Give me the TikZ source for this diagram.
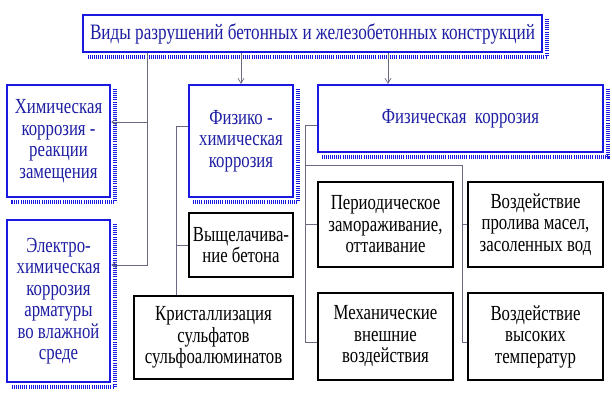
\documentclass[tikz,border=0pt]{standalone}
\usepackage{fontspec}
\setmainfont{Liberation Serif}
\newfontfamily\narrowserif{Liberation Serif}[FakeStretch=0.78]
\usetikzlibrary{arrows.meta}

\definecolor{boxblue}{RGB}{25,25,225}
\definecolor{txtblue}{RGB}{30,30,165}
\definecolor{linkgray}{RGB}{105,105,130}

\newcommand\boxfont{\narrowserif\fontsize{21.5}{21.5}\selectfont}
\newcommand\boxshadow[1]{%
  \draw[hatch] ([xshift=3.5pt,yshift=-5pt]#1.north east) |- ([xshift=5pt,yshift=-3.5pt]#1.south west);}

\tikzset{
  bluebox/.style={draw=boxblue, line width=2.2pt, fill=white, text=txtblue, align=center, inner sep=1pt},
  blackbox/.style={draw=black, line width=1.8pt, fill=white, align=center, inner sep=1pt},
  link/.style={draw=linkgray, line width=0.7pt},
  arr/.style={link, -{Straight Barb[length=5pt,width=6pt]}},
  hatch/.style={draw=boxblue, line width=4pt, dash pattern=on 1pt off 1.1pt},
}

\begin{document}
\begin{tikzpicture}[x=1pt, y=-1pt, font=\boxfont]
  \useasboundingbox (0,0) rectangle (612,400);

  % blue boxes
  \node[bluebox, minimum width=459pt, minimum height=37pt, font=\narrowserif\fontsize{22}{22}\selectfont] (top) at (312.5,33.5)
    {Виды разрушений бетонных и железобетонных конструкций};
  \node[bluebox, minimum width=103pt, minimum height=112pt] (chem) at (58.5,141)
    {Химическая\\коррозия -\\реакции\\замещения};
  \node[bluebox, minimum width=103pt, minimum height=162pt] (electro) at (58.5,301)
    {Электро-\\химическая\\коррозия\\арматуры\\во влажной\\среде};
  \node[bluebox, minimum width=104pt, minimum height=112pt] (physchem) at (241,141)
    {Физико -\\химическая\\коррозия};
  \node[bluebox, minimum width=285pt, minimum height=67pt] (phys) at (460.5,118.5)
    {Физическая\ \ коррозия};
  \boxshadow{top}
  \boxshadow{chem}
  \boxshadow{electro}
  \boxshadow{physchem}
  \boxshadow{phys}

  % black boxes
  \node[blackbox, minimum width=104pt, minimum height=64pt] (leach) at (241,245)
    {Выщелачива-\\ние бетона};
  \node[blackbox, minimum width=159pt, minimum height=83pt] (cryst) at (213.5,337.5)
    {Кристаллизация\\сульфатов\\сульфоалюминатов};
  \node[blackbox, minimum width=135pt, minimum height=85pt] (freeze) at (385.5,224.5)
    {Периодическое\\замораживание,\\оттаивание};
  \node[blackbox, minimum width=135pt, minimum height=85pt] (oils) at (535.5,224.5)
    {Воздействие\\пролива масел,\\засоленных вод};
  \node[blackbox, minimum width=135pt, minimum height=87pt] (mech) at (385.5,336.5)
    {Механические\\внешние\\воздействия};
  \node[blackbox, minimum width=135pt, minimum height=87pt] (temp) at (535.5,336.5)
    {Воздействие\\высоких\\температур};

  % connectors
  \coordinate (trunk) at (147,0);
  \coordinate (physdrop) at (388,0);
  \coordinate (lbus) at (176,0);
  \coordinate (rbus) at (305,0);
  \coordinate (rbus2) at (462,0);
  \coordinate (fork) at (305,165);
  \coordinate (mechin) at ([yshift=-6pt]mech.west);
  \coordinate (tempin) at ([yshift=-6pt]temp.west);

  \draw[arr] (top.south -| trunk) |- ([yshift=19pt]chem.east);
  \draw[arr] (top.south -| trunk) |- ([yshift=36pt]electro.east);
  \draw[arr] (top.south -| physchem.north) -- (physchem.north);
  \draw[arr] (top.south -| physdrop) -- (phys.north -| physdrop);

  \draw[link] ([yshift=15pt]physchem.west) -| (cryst.north -| lbus);
  \draw[link] (leach.west -| lbus) -- (leach.west);

  \draw[link] ([yshift=-6.5pt]phys.west) -| (mechin -| rbus) -- (mechin);
  \draw[link] (freeze.west -| rbus) -- (freeze.west);
  \draw[link] (fork) -| (tempin -| rbus2) -- (tempin);
  \draw[link] (oils.west -| rbus2) -- (oils.west);
\end{tikzpicture}
\end{document}
